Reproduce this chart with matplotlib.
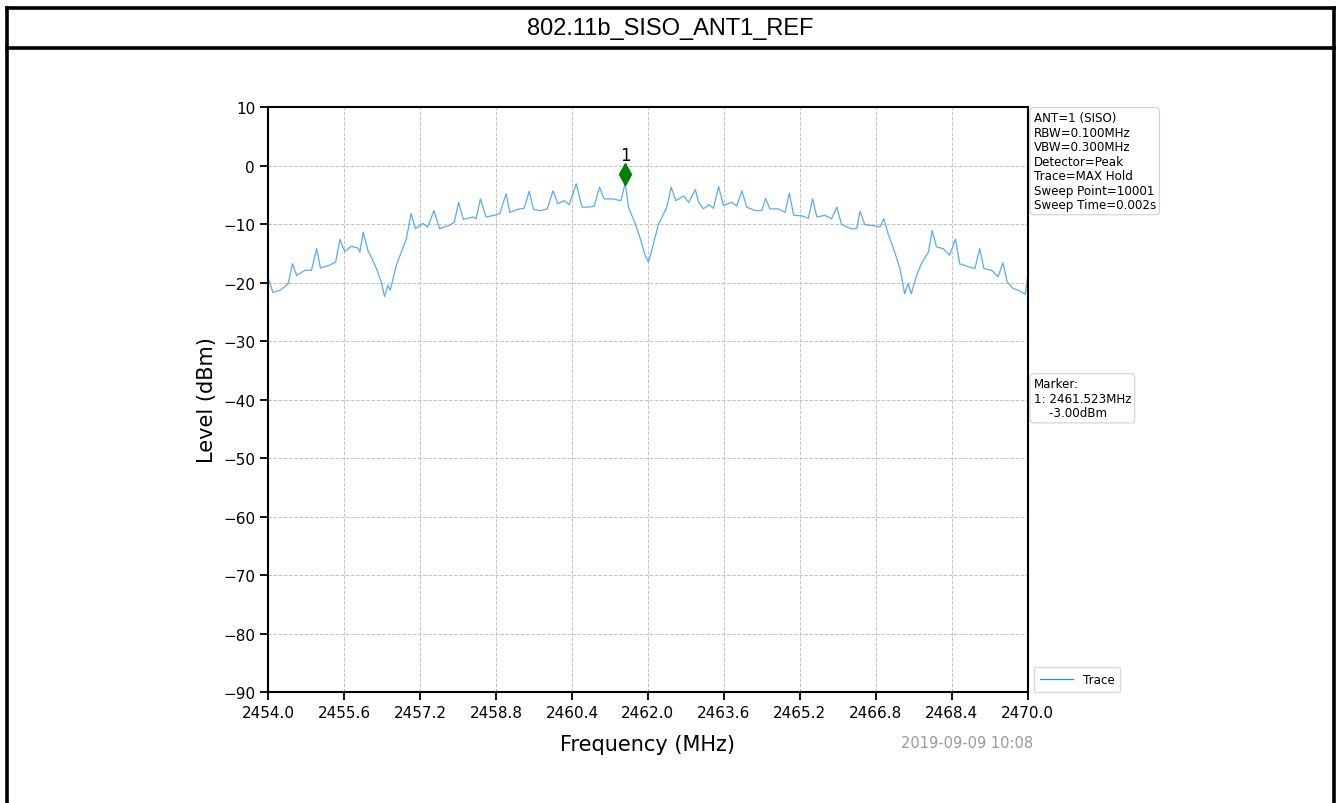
import matplotlib
matplotlib.use('Agg')
import matplotlib.pyplot as plt
from matplotlib.lines import Line2D
from matplotlib.transforms import offset_copy

# spectrum trace, MAX hold, ANT1
freq_mhz = [
    2454.00, 2454.10, 2454.25, 2454.35, 2454.42, 2454.51, 2454.60, 2454.77, 2454.91, 2455.02,
    2455.10, 2455.30, 2455.42, 2455.51, 2455.61, 2455.75, 2455.89, 2455.93, 2456.00, 2456.10,
    2456.28, 2456.38, 2456.45, 2456.52, 2456.57, 2456.70, 2456.91, 2457.01, 2457.10, 2457.26,
    2457.36, 2457.49, 2457.61, 2457.82, 2457.92, 2458.01, 2458.11, 2458.31, 2458.38, 2458.47,
    2458.59, 2458.76, 2458.88, 2459.01, 2459.09, 2459.25, 2459.39, 2459.50, 2459.59, 2459.74,
    2459.88, 2460.00, 2460.10, 2460.24, 2460.34, 2460.49, 2460.61, 2460.76, 2460.87, 2460.98,
    2461.08, 2461.25, 2461.43, 2461.523, 2461.59, 2461.73, 2461.84, 2461.94, 2462.01, 2462.08,
    2462.22, 2462.40, 2462.49, 2462.59, 2462.75, 2462.86, 2463.00, 2463.07, 2463.17, 2463.28,
    2463.38, 2463.49, 2463.59, 2463.77, 2463.87, 2463.98, 2464.08, 2464.26, 2464.40, 2464.48,
    2464.57, 2464.75, 2464.89, 2464.98, 2465.07, 2465.24, 2465.38, 2465.47, 2465.56, 2465.73,
    2465.87, 2465.98, 2466.08, 2466.29, 2466.40, 2466.47, 2466.57, 2466.78, 2466.89, 2466.97,
    2467.06, 2467.20, 2467.31, 2467.41, 2467.48, 2467.55, 2467.66, 2467.76, 2467.91, 2467.99,
    2468.08, 2468.22, 2468.36, 2468.48, 2468.57, 2468.75, 2468.89, 2468.99, 2469.08, 2469.24,
    2469.38, 2469.48, 2469.57, 2469.69, 2469.80, 2469.95, 2470.00,
]
level_dbm = [
    -19.3, -21.7, -21.3, -20.7, -20.2, -16.8, -18.8, -17.9, -17.9, -14.2,
    -17.5, -17.0, -16.5, -12.6, -14.7, -13.8, -14.1, -14.8, -11.4, -14.5,
    -17.6, -19.9, -22.4, -20.5, -21.3, -17.0, -12.5, -8.2, -10.8, -9.9,
    -10.5, -7.7, -10.8, -10.2, -9.7, -6.3, -9.2, -8.8, -9.1, -5.7,
    -8.8, -8.5, -8.2, -4.8, -8.0, -7.5, -7.3, -4.4, -7.5, -7.7,
    -7.4, -4.3, -6.5, -6.0, -6.7, -3.1, -7.1, -7.1, -6.9, -3.7,
    -5.7, -5.7, -6.0, -3.0, -7.1, -9.9, -12.5, -15.3, -16.5, -14.5,
    -10.1, -7.1, -3.7, -6.0, -5.2, -6.3, -4.1, -6.3, -7.4, -6.7,
    -7.3, -3.6, -6.8, -6.3, -6.9, -4.3, -7.1, -7.7, -7.7, -5.6,
    -7.4, -7.4, -8.0, -4.7, -8.5, -8.6, -9.0, -5.7, -8.8, -8.5,
    -9.1, -7.1, -10.1, -10.8, -10.8, -7.8, -10.1, -10.3, -10.5, -9.1,
    -11.6, -14.8, -17.6, -21.9, -20.2, -21.9, -18.8, -16.8, -14.8, -11.1,
    -13.9, -14.2, -15.3, -12.6, -16.8, -17.3, -17.6, -14.2, -17.6, -17.9,
    -19.0, -16.6, -19.9, -21.0, -21.3, -22.0, -19.1,
]

marker_freq = 2461.523
marker_level = -3.00
x_ticks = [2454.0, 2455.6, 2457.2, 2458.8, 2460.4, 2462.0, 2463.6, 2465.2, 2466.8, 2468.4, 2470.0]
y_ticks = [10, 0, -10, -20, -30, -40, -50, -60, -70, -80, -90]

setting_lines = [
    'ANT=1 (SISO)', 'RBW=0.100MHz', 'VBW=0.300MHz', 'Detector=Peak',
    'Trace=MAX Hold', 'Sweep Point=10001', 'Sweep Time=0.002s',
]
marker_lines = ['Marker:', '1: 2461.523MHz', '    -3.00dBm']
title_text = '802.11b_SISO_ANT1_REF'
stamp_text = '2019-09-09 10:08'

fig = plt.figure(figsize=(13.38, 8.04), dpi=100)
fig.patch.set_facecolor('white')

# cell frame around the plot with its header row
frame = dict(color='black', lw=2.6, transform=fig.transFigure)
fig.add_artist(Line2D([0.0052, 0.997], [0.9892, 0.9892], **frame))
fig.add_artist(Line2D([0.0052, 0.997], [0.9394, 0.9394], **frame))
fig.add_artist(Line2D([0.0052, 0.0052], [0.0, 0.9892], **frame))
fig.add_artist(Line2D([0.997, 0.997], [0.0, 0.9892], **frame))
fig.text(0.501, 0.9643, title_text, ha='center', va='center',
         fontsize=17, family='Liberation Sans')

ax = fig.add_axes([0.2005, 0.138, 0.5675, 0.7276])
line, = ax.plot(freq_mhz, level_dbm, color='#3a9ef0', lw=0.9, alpha=0.85, label='Trace')

# marker sits a little above the peak it points at
mk_trans = offset_copy(ax.transData, fig=fig, x=0, y=9, units='dots')
ax.plot([marker_freq], [marker_level], marker='d', color='green', markersize=11,
        transform=mk_trans, zorder=5)
ax.annotate('1', (marker_freq, marker_level), xytext=(0, 20), textcoords='offset points',
            ha='center', va='center', fontsize=12)

ax.set_xlim(2454.0, 2470.0)
ax.set_ylim(-90, 10)
ax.set_xticks(x_ticks)
ax.set_xticklabels([f'{v:.1f}' for v in x_ticks])
ax.set_yticks(y_ticks)
ax.tick_params(direction='out', length=6, width=1.3, labelsize=11)
ax.grid(True, color='#c4c4c4', linestyle='--', lw=0.7)
for s in ax.spines.values():
    s.set_linewidth(1.5)

ax.set_xlabel('Frequency (MHz)', fontsize=15, labelpad=10)
ax.set_ylabel('Level (dBm)', fontsize=15, labelpad=4)

box = dict(boxstyle='round,pad=0.3', fc='white', ec='#d0d0d0', lw=0.8)
ax.text(1.008, 0.993, '\n'.join(setting_lines), transform=ax.transAxes,
        ha='left', va='top', fontsize=8.6, bbox=box, linespacing=1.15)
ax.text(1.008, 0.538, '\n'.join(marker_lines), transform=ax.transAxes,
        ha='left', va='top', fontsize=8.6, bbox=box, linespacing=1.15)

leg = ax.legend(handles=[line], loc='lower left', bbox_to_anchor=(1.0, -0.01),
                fontsize=8.6, frameon=True, fancybox=True, handlelength=2.8,
                borderpad=0.5, edgecolor='#d0d0d0')
leg.legend_handles[0].set_color('#1e8fff')
leg.legend_handles[0].set_alpha(1.0)

fig.text(0.772, 0.075, stamp_text, ha='right', va='center', fontsize=10.5, color='#999999')

fig.savefig('out.png', dpi=100)
